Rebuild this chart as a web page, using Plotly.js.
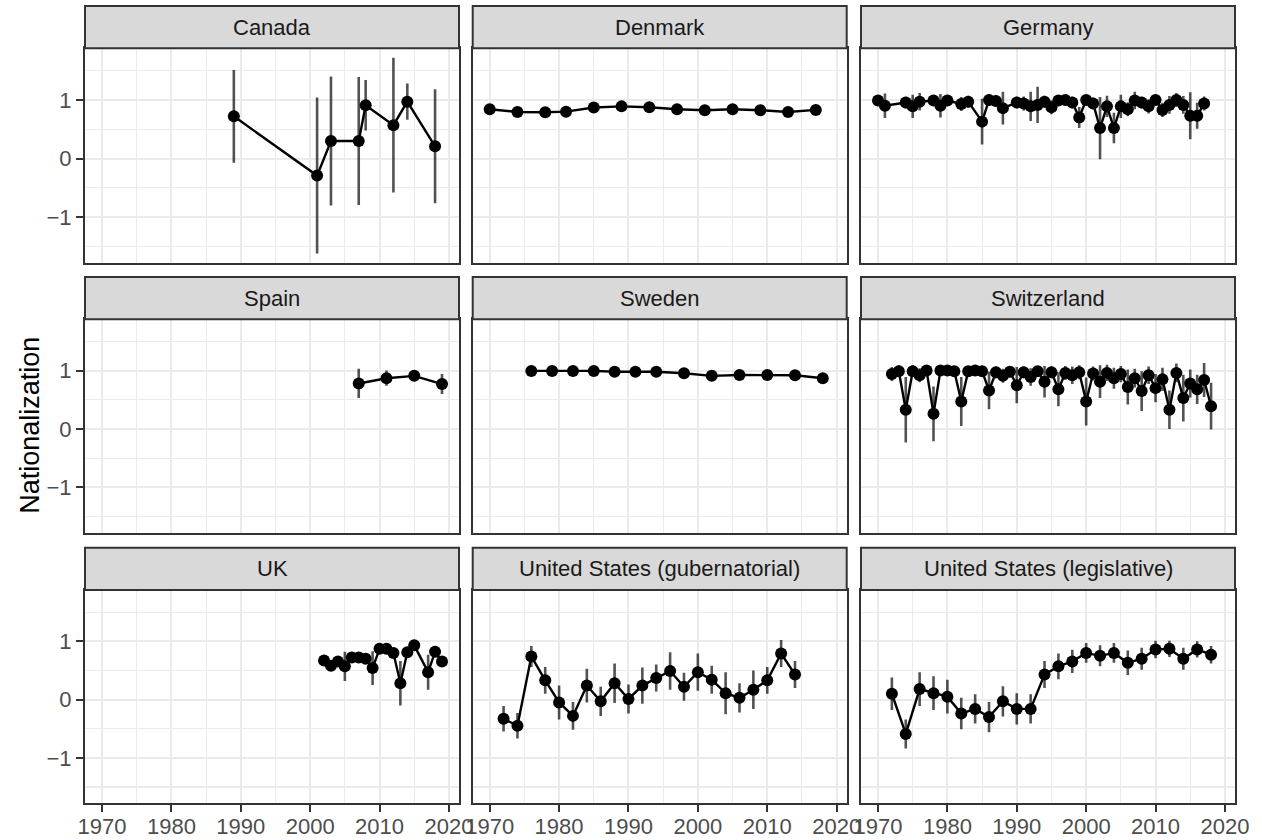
<!DOCTYPE html>
<html><head><meta charset="utf-8">
<script src="https://cdn.plot.ly/plotly-3.0.1.min.js"></script>
<style>html,body{margin:0;padding:0;background:#fff}#chart{width:1262px;height:840px}</style>
</head><body><div id="chart"></div>
<script>
const panelNames = ["Canada","Denmark","Germany","Spain","Sweden","Switzerland","UK","United States (gubernatorial)","United States (legislative)"];
const xTickVals = [1970,1980,1990,2000,2010,2020];
const yTickVals = [-1,0,1];
const yTitle = "Nationalization";

const canadaYear = [1989,2001,2003,2007,2008,2012,2014,2018];
const canadaVal  = [0.72,-0.29,0.30,0.30,0.91,0.57,0.97,0.21];
const canadaErr  = [0.79,1.33,1.10,1.09,0.43,1.15,0.31,0.97];

const denmarkYear = [1970,1974,1978,1981,1985,1989,1993,1997,2001,2005,2009,2013,2017];
const denmarkVal  = [0.84,0.795,0.79,0.80,0.87,0.89,0.875,0.84,0.825,0.84,0.825,0.795,0.83];
const denmarkErr  = [0.03,0.03,0.03,0.03,0.03,0.03,0.03,0.03,0.03,0.03,0.03,0.03,0.03];

const germanyYear = [1970,1971,1974,1975,1976,1978,1979,1980,1982,1983,1985,1986,1987,1988,1990,1991,1992,1993,1994,1995,1996,1997,1998,1999,2000,2001,2002,2003,2004,2005,2006,2007,2008,2009,2010,2011,2012,2013,2014,2015,2016,2017];
const germanyVal  = [0.99,0.90,0.955,0.89,0.97,0.99,0.90,0.99,0.93,0.97,0.63,1.0,0.98,0.86,0.955,0.94,0.89,0.915,0.97,0.875,0.99,1.0,0.955,0.70,1.0,0.94,0.52,0.89,0.52,0.89,0.84,0.99,0.955,0.89,1.0,0.83,0.915,1.0,0.915,0.73,0.73,0.94];
const germanyErr  = [0.08,0.21,0.1,0.2,0.15,0.08,0.2,0.08,0.12,0.1,0.39,0.1,0.1,0.28,0.1,0.12,0.25,0.31,0.1,0.12,0.08,0.08,0.1,0.18,0.05,0.1,0.53,0.18,0.26,0.2,0.12,0.15,0.1,0.12,0.08,0.12,0.15,0.12,0.15,0.40,0.22,0.12];

const spainYear = [2007,2011,2015,2019];
const spainVal  = [0.78,0.87,0.91,0.77];
const spainErr  = [0.25,0.13,0.07,0.17];

const swedenYear = [1976,1979,1982,1985,1988,1991,1994,1998,2002,2006,2010,2014,2018];
const swedenVal  = [0.995,0.995,0.995,0.995,0.98,0.98,0.98,0.955,0.91,0.925,0.925,0.92,0.87];
const swedenErr  = [0.02,0.02,0.02,0.02,0.02,0.02,0.02,0.02,0.02,0.02,0.02,0.02,0.02];

const switzerlandYear = [1972,1973,1974,1975,1976,1977,1978,1979,1980,1981,1982,1983,1984,1985,1986,1987,1988,1989,1990,1991,1992,1993,1994,1995,1996,1997,1998,1999,2000,2001,2002,2003,2004,2005,2006,2007,2008,2009,2010,2011,2012,2013,2014,2015,2016,2017,2018];
const switzerlandVal  = [0.94,0.99,0.33,0.99,0.92,1.0,0.26,1.0,1.0,0.99,0.47,0.99,1.0,0.99,0.66,0.97,0.91,0.98,0.75,0.97,0.89,0.99,0.81,0.97,0.68,0.96,0.92,0.97,0.47,0.95,0.81,0.96,0.87,0.94,0.72,0.87,0.65,0.92,0.70,0.85,0.33,0.96,0.53,0.78,0.68,0.84,0.39];
const switzerlandErr  = [0.12,0.1,0.56,0.1,0.12,0.08,0.47,0.06,0.06,0.08,0.42,0.06,0.06,0.08,0.32,0.1,0.12,0.1,0.31,0.1,0.15,0.08,0.27,0.1,0.29,0.12,0.15,0.12,0.41,0.12,0.28,0.14,0.18,0.14,0.3,0.16,0.34,0.15,0.24,0.2,0.33,0.16,0.4,0.24,0.25,0.29,0.4];

const ukYear = [2002,2003,2004,2005,2006,2007,2008,2009,2010,2011,2012,2013,2014,2015,2017,2018,2019];
const ukVal  = [0.67,0.58,0.655,0.57,0.72,0.72,0.70,0.54,0.87,0.87,0.80,0.28,0.81,0.93,0.47,0.82,0.655];
const ukErr  = [0.05,0.06,0.08,0.25,0.06,0.05,0.06,0.29,0.06,0.05,0.08,0.38,0.06,0.05,0.3,0.06,0.05];

const usGovYear = [1972,1974,1976,1978,1980,1982,1984,1986,1988,1990,1992,1994,1996,1998,2000,2002,2004,2006,2008,2010,2012,2014];
const usGovVal  = [-0.33,-0.45,0.74,0.33,-0.05,-0.28,0.24,-0.03,0.28,0.01,0.24,0.37,0.49,0.22,0.47,0.34,0.11,0.03,0.17,0.33,0.79,0.43];
const usGovErr  = [0.22,0.22,0.18,0.23,0.29,0.24,0.29,0.25,0.34,0.25,0.31,0.23,0.32,0.24,0.32,0.24,0.36,0.25,0.33,0.23,0.23,0.23];

const usLegYear = [1972,1974,1976,1978,1980,1982,1984,1986,1988,1990,1992,1994,1996,1998,2000,2002,2004,2006,2008,2010,2012,2014,2016,2018];
const usLegVal  = [0.10,-0.59,0.18,0.11,0.05,-0.24,-0.16,-0.30,-0.03,-0.16,-0.16,0.43,0.57,0.655,0.80,0.75,0.80,0.63,0.70,0.86,0.87,0.70,0.86,0.77];
const usLegErr  = [0.28,0.25,0.29,0.29,0.29,0.27,0.25,0.26,0.26,0.27,0.25,0.23,0.22,0.2,0.17,0.18,0.17,0.21,0.19,0.15,0.14,0.19,0.14,0.15];

const series = [
  [canadaYear, canadaVal, canadaErr],
  [denmarkYear, denmarkVal, denmarkErr],
  [germanyYear, germanyVal, germanyErr],
  [spainYear, spainVal, spainErr],
  [swedenYear, swedenVal, swedenErr],
  [switzerlandYear, switzerlandVal, switzerlandErr],
  [ukYear, ukVal, ukErr],
  [usGovYear, usGovVal, usGovErr],
  [usLegYear, usLegVal, usLegErr]
];

// layout geometry (pixels)
const W = 1262, H = 840;
const cols = [[85, 459], [472.7, 846.7], [861, 1235]];
const rows = [[48.3, 263], [319.2, 533], [590, 803.3]];
const stripH = 42.3;
const FONT = "Liberation Sans, Arial, Helvetica, sans-serif";
const TFS = 22;

const traces = [];
const layout = {
  width: W, height: H,
  margin: {l: 0, r: 0, t: 0, b: 0},
  paper_bgcolor: "#ffffff", plot_bgcolor: "#ffffff",
  showlegend: false,
  font: {family: FONT, color: "#4D4D4D"},
  shapes: [], annotations: []
};

for (let i = 0; i < 9; i++) {
  const r = Math.floor(i / 3), c = i % 3;
  const n = i + 1;
  const xa = n === 1 ? "xaxis" : "xaxis" + n;
  const ya = n === 1 ? "yaxis" : "yaxis" + n;
  const xr = n === 1 ? "x" : "x" + n;
  const yr = n === 1 ? "y" : "y" + n;
  const [yrs, vals, errs] = series[i];
  traces.push({
    type: "scatter", mode: "lines+markers",
    x: yrs, y: vals, xaxis: xr, yaxis: yr,
    line: {color: "#000000", width: 2.4},
    marker: {color: "#000000", size: 12},
    error_y: {type: "data", array: errs, visible: true, color: "rgba(0,0,0,0.68)", thickness: 2.6, width: 0},
    hoverinfo: "skip", cliponaxis: true
  });
  const bottom = r === 2, left = c === 0;
  layout[xa] = {
    domain: [cols[c][0] / W, cols[c][1] / W],
    anchor: yr,
    range: [1967.55, 2021.45],
    tickmode: "array", tickvals: xTickVals,
    showticklabels: bottom,
    ticks: bottom ? "outside" : "", ticklen: 7, tickwidth: 2, tickcolor: "#333333",
    ticklabelstandoff: -5,
    tickfont: {size: TFS, color: "#4D4D4D", family: FONT},
    showgrid: true, gridcolor: "#EBEBEB", gridwidth: 2,
    minor: {tickmode: "array", tickvals: [1965,1975,1985,1995,2005,2015], showgrid: true, gridcolor: "#EBEBEB", gridwidth: 1.1, ticks: ""},
    zeroline: false,
    showline: true, mirror: true, linecolor: "#333333", linewidth: 2,
    fixedrange: true
  };
  layout[ya] = {
    domain: [1 - rows[r][1] / H, 1 - rows[r][0] / H],
    anchor: xr,
    range: [-1.78, 1.88],
    tickmode: "array", tickvals: yTickVals,
    showticklabels: left,
    ticks: left ? "outside" : "", ticklen: 7, tickwidth: 2, tickcolor: "#333333",
    tickfont: {size: TFS, color: "#4D4D4D", family: FONT},
    showgrid: true, gridcolor: "#EBEBEB", gridwidth: 2,
    minor: {tickmode: "array", tickvals: [-1.5,-0.5,0.5,1.5], showgrid: true, gridcolor: "#EBEBEB", gridwidth: 1.1, ticks: ""},
    zeroline: false,
    showline: true, mirror: true, linecolor: "#333333", linewidth: 2,
    fixedrange: true
  };
  // strip
  const sTop = rows[r][0] - stripH;
  layout.shapes.push({
    type: "rect", xref: "paper", yref: "paper",
    x0: cols[c][0] / W, x1: cols[c][1] / W,
    y0: 1 - rows[r][0] / H, y1: 1 - sTop / H,
    fillcolor: "#D9D9D9", line: {color: "#333333", width: 2}, layer: "above"
  });
  layout.annotations.push({
    xref: "paper", yref: "paper",
    x: (cols[c][0] + cols[c][1]) / 2 / W, y: 1 - (sTop + stripH / 2) / H,
    xanchor: "center", yanchor: "middle", showarrow: false,
    text: panelNames[i], font: {size: TFS, color: "#1A1A1A", family: FONT}
  });
}

layout.annotations.push({
  xref: "paper", yref: "paper",
  x: 30 / W, y: 1 - ((rows[0][0] + rows[2][1]) / 2) / H,
  xanchor: "center", yanchor: "middle", showarrow: false, textangle: -90,
  text: yTitle, font: {size: 27, color: "#000000", family: FONT}
});

Plotly.newPlot("chart", traces, layout, {displayModeBar: false, staticPlot: true});
</script>
</body></html>
